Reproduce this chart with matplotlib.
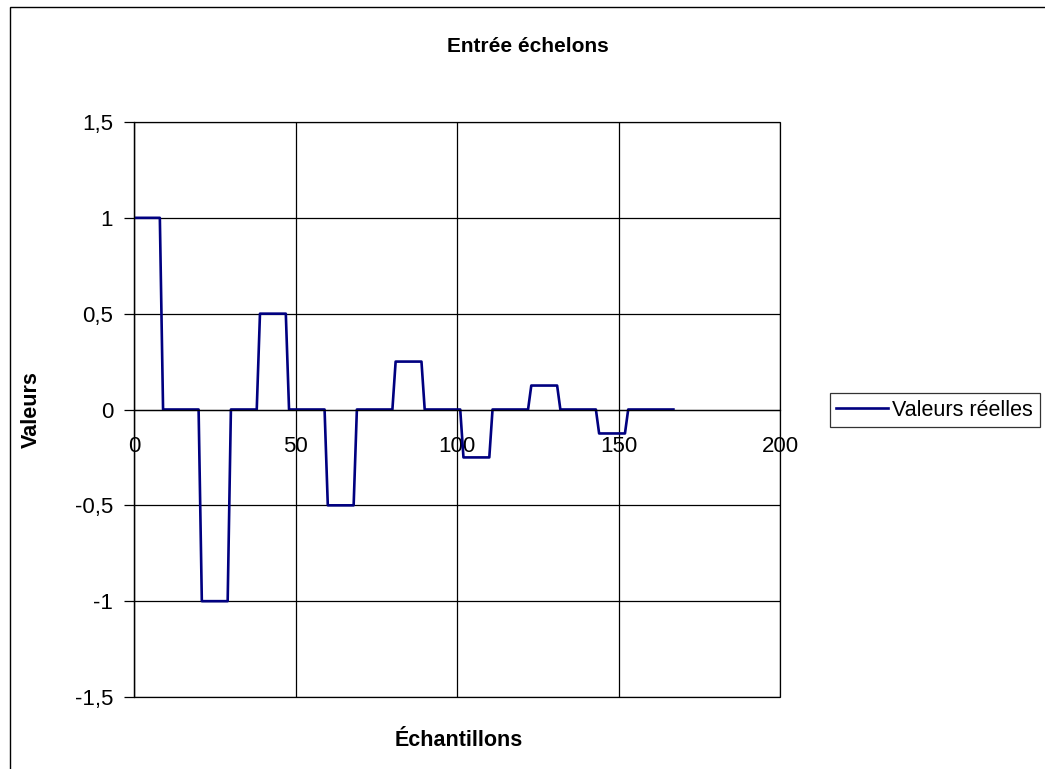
import matplotlib
matplotlib.use("Agg")
import matplotlib.pyplot as plt
from matplotlib.patches import Rectangle
from matplotlib.ticker import FuncFormatter

# Corner points of the step signal (sample index, value)
sample_x = [0, 8, 9, 20, 21, 29, 30, 38, 39, 47, 48, 59, 60, 68, 69, 80,
            81, 89, 90, 101, 102, 110, 111, 122, 123, 131, 132, 143, 144, 152, 153, 167]
values = [1, 1, 0, 0, -1, -1, 0, 0, 0.5, 0.5, 0, 0, -0.5, -0.5, 0, 0,
          0.25, 0.25, 0, 0, -0.25, -0.25, 0, 0, 0.125, 0.125, 0, 0, -0.125, -0.125, 0, 0]

x_ticks = [0, 50, 100, 150, 200]
y_ticks = [-1.5, -1, -0.5, 0, 0.5, 1, 1.5]

title = "Entrée échelons"
x_label = "Échantillons"
y_label = "Valeurs"
series_name = "Valeurs réelles"

plt.rcParams["font.family"] = ["Liberation Sans", "DejaVu Sans"]

W, H = 1045, 769
fig = plt.figure(figsize=(W / 100, H / 100), dpi=100)
ax = fig.add_axes([134 / W, 1 - 697 / H, (780 - 134) / W, (697 - 122) / H])

line, = ax.plot(sample_x, values, color="#000080", linewidth=1.9, label=series_name)

ax.set_xlim(0, 200)
ax.set_ylim(-1.5, 1.5)
ax.set_xticks(x_ticks)
ax.set_yticks(y_ticks)
ax.grid(True, color="black", linewidth=0.9)
ax.set_axisbelow(True)

# category axis crosses at zero, like the spreadsheet chart
ax.spines["bottom"].set_position(("data", 0))
for s in ax.spines.values():
    s.set_color("black")
    s.set_linewidth(0.9)
ax.spines["top"].set_visible(False)
ax.spines["right"].set_visible(False)

# plot area frame
ax.add_patch(Rectangle((0, 0), 1, 1, transform=ax.transAxes, fill=False,
                       edgecolor="black", linewidth=0.9, clip_on=False, zorder=0.5))

def fr(v, pos):
    return ("%g" % v).replace(".", ",")

ax.yaxis.set_major_formatter(FuncFormatter(fr))
ax.tick_params(axis="y", direction="out", length=7, width=0.9, pad=8, labelsize=16)
ax.tick_params(axis="x", length=0, pad=19, labelsize=16)

fig.text(528 / W, 1 - 46 / H, title, ha="center", va="center",
         fontsize=15, fontweight="bold")
fig.text(459 / W, 1 - 740 / H, x_label, ha="center", va="center",
         fontsize=15.5, fontweight="bold")
fig.text(31 / W, 1 - 410 / H, y_label, ha="center", va="center",
         rotation=90, fontsize=15.5, fontweight="bold")

leg = fig.legend(handles=[line], loc="center left",
                 bbox_to_anchor=(830 / W, 1 - 410 / H), fontsize=15.5,
                 frameon=True, fancybox=False, shadow=False,
                 handlelength=2.4, handletextpad=0.2, borderpad=0.3,
                 borderaxespad=0)
leg.get_frame().set_edgecolor("black")
leg.get_frame().set_linewidth(0.9)

# chart area border (cut off at right and bottom)
fig.patches.append(Rectangle((10 / W, -0.1), 1.2, 1 - 7 / H + 0.1,
                             transform=fig.transFigure, fill=False,
                             edgecolor="black", linewidth=1.0))

fig.savefig("out.png", dpi=100)
